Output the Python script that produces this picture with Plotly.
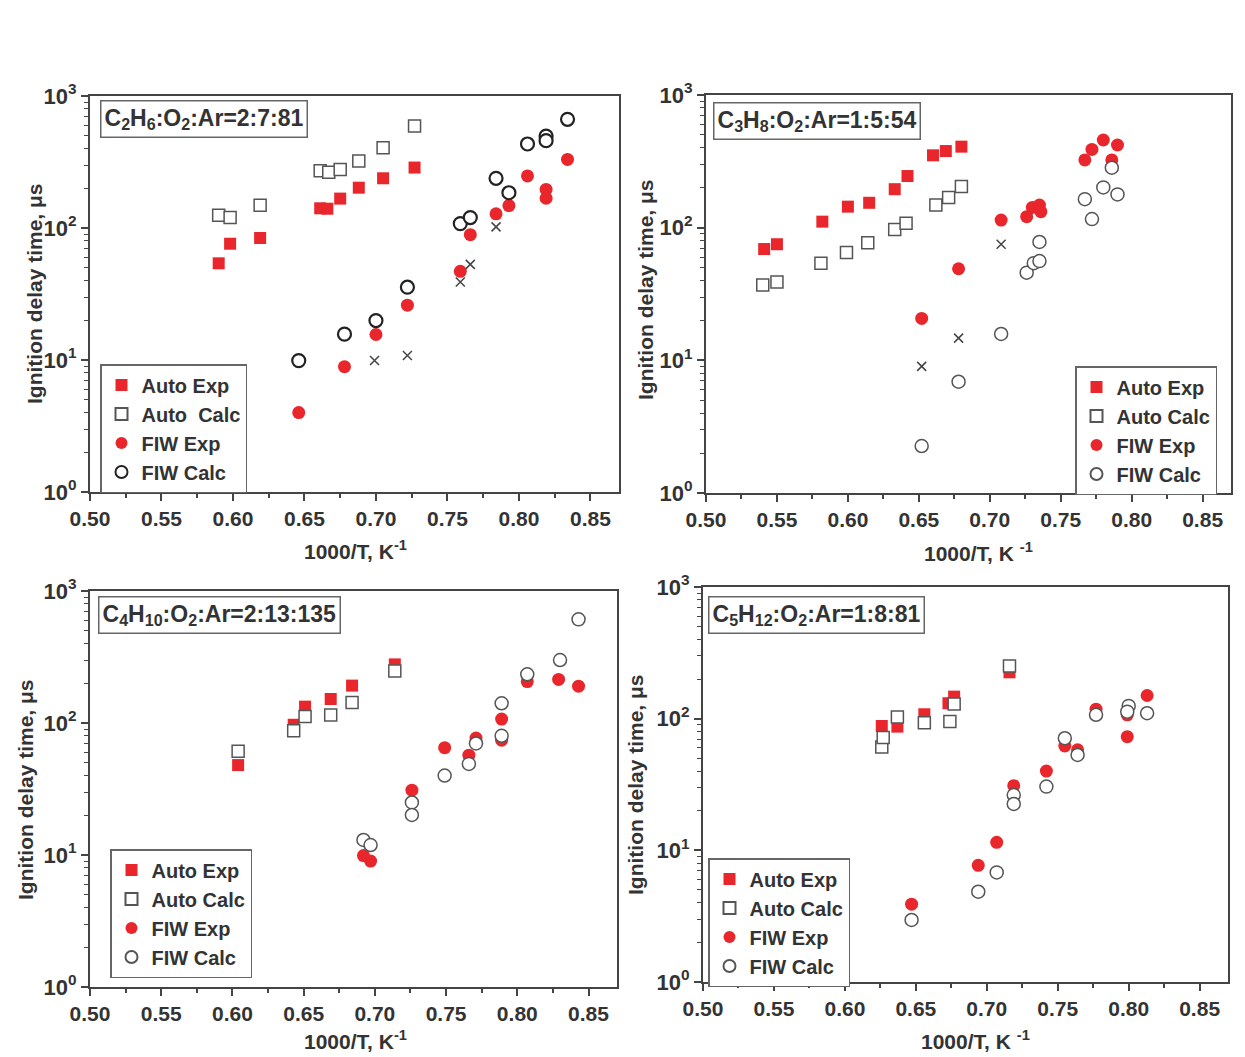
import plotly.graph_objects as go

# page body has an 8px default margin, so the figure is drawn 8px in from the window corner
PAGE_W, PAGE_H = 1245, 1057
OFF = 8
W, H = PAGE_W - OFF, PAGE_H - OFF

# ---------------- data (1000/T in K^-1, ignition delay in microseconds) ----------------
# Panel 1: C2H6:O2:Ar = 2:7:81
p1_auto_exp_x = [0.590, 0.598, 0.619, 0.661, 0.666, 0.675, 0.688, 0.705, 0.727]
p1_auto_exp_y = [54, 76, 84, 141, 140, 167, 202, 238, 287]
p1_auto_calc_x = [0.590, 0.598, 0.619, 0.661, 0.667, 0.675, 0.688, 0.705, 0.727]
p1_auto_calc_y = [125, 120, 149, 271, 264, 278, 322, 406, 593]
p1_fiw_exp_x = [0.646, 0.678, 0.700, 0.722, 0.759, 0.766, 0.784, 0.793, 0.806, 0.819, 0.819, 0.834]
p1_fiw_exp_y = [4.0, 8.9, 15.6, 26, 47, 89, 128, 148, 248, 196, 168, 331]
p1_fiw_calc_x = [0.646, 0.678, 0.700, 0.722, 0.759, 0.766, 0.784, 0.793, 0.806, 0.819, 0.819, 0.834]
p1_fiw_calc_y = [9.9, 15.7, 19.9, 35.6, 108, 120, 238, 185, 433, 497, 459, 666]
p1_cross_x = [0.699, 0.722, 0.759, 0.766, 0.784]
p1_cross_y = [9.9, 10.8, 39, 53, 102]

# Panel 2: C3H8:O2:Ar = 1:5:54
p2_auto_exp_x = [0.541, 0.550, 0.582, 0.600, 0.615, 0.633, 0.642, 0.660, 0.669, 0.680]
p2_auto_exp_y = [69, 75, 111, 144, 154, 195, 245, 351, 378, 408]
p2_auto_calc_x = [0.540, 0.550, 0.581, 0.599, 0.614, 0.633, 0.641, 0.662, 0.671, 0.680]
p2_auto_calc_y = [37, 39, 54, 65, 77, 97, 108, 148, 169, 204]
p2_fiw_exp_x = [0.652, 0.678, 0.708, 0.726, 0.730, 0.735, 0.736, 0.767, 0.772, 0.780, 0.790, 0.786]
p2_fiw_exp_y = [20.7, 49, 114, 121, 142, 148, 132, 324, 389, 458, 420, 324]
p2_fiw_calc_x = [0.652, 0.678, 0.708, 0.726, 0.731, 0.735, 0.735, 0.767, 0.772, 0.780, 0.790, 0.786]
p2_fiw_calc_y = [2.26, 6.9, 15.8, 45.8, 54, 56, 78, 164, 116, 201, 178, 283]
p2_cross_x = [0.652, 0.678, 0.708]
p2_cross_y = [9.0, 14.7, 75]

# Panel 3: C4H10:O2:Ar = 2:13:135
p3_auto_exp_x = [0.604, 0.643, 0.651, 0.669, 0.684, 0.714]
p3_auto_exp_y = [48, 97, 133, 152, 192, 278]
p3_auto_calc_x = [0.604, 0.643, 0.651, 0.669, 0.684, 0.714]
p3_auto_calc_y = [61, 87.5, 112, 115, 143, 248]
p3_fiw_exp_x = [0.692, 0.697, 0.726, 0.749, 0.766, 0.771, 0.789, 0.789, 0.807, 0.829, 0.843]
p3_fiw_exp_y = [9.9, 9.0, 31, 65, 57, 77, 74, 107, 206, 214, 190]
p3_fiw_calc_x = [0.692, 0.697, 0.726, 0.726, 0.749, 0.766, 0.771, 0.789, 0.789, 0.807, 0.830, 0.843]
p3_fiw_calc_y = [13.0, 11.9, 25, 20.1, 40, 49, 70, 80, 141, 234, 300, 610]

# Panel 4: C5H12:O2:Ar = 1:8:81
p4_auto_exp_x = [0.626, 0.637, 0.656, 0.673, 0.677, 0.716]
p4_auto_exp_y = [88, 87, 108, 131, 147, 225]
p4_auto_calc_x = [0.626, 0.627, 0.637, 0.656, 0.674, 0.677, 0.716]
p4_auto_calc_y = [61, 72, 103, 93, 95, 129, 251]
p4_fiw_exp_x = [0.647, 0.694, 0.707, 0.719, 0.742, 0.755, 0.764, 0.777, 0.799, 0.799, 0.813]
p4_fiw_exp_y = [3.9, 7.7, 11.5, 31, 40, 62, 58, 118, 107, 73, 150]
p4_fiw_calc_x = [0.647, 0.694, 0.707, 0.719, 0.719, 0.742, 0.755, 0.764, 0.777, 0.800, 0.799, 0.813]
p4_fiw_calc_y = [2.96, 4.85, 6.8, 26.3, 22.5, 30.5, 71, 53, 107, 125, 113, 110]

titles = [
    "C<sub>2</sub>H<sub>6</sub>:O<sub>2</sub>:Ar=2:7:81",
    "C<sub>3</sub>H<sub>8</sub>:O<sub>2</sub>:Ar=1:5:54",
    "C<sub>4</sub>H<sub>10</sub>:O<sub>2</sub>:Ar=2:13:135",
    "C<sub>5</sub>H<sub>12</sub>:O<sub>2</sub>:Ar=1:8:81",
]
legend_names = [
    ["Auto Exp", "Auto  Calc", "FIW Exp", "FIW Calc"],
    ["Auto Exp", "Auto Calc", "FIW Exp", "FIW Calc"],
    ["Auto Exp", "Auto Calc", "FIW Exp", "FIW Calc"],
    ["Auto Exp", "Auto Calc", "FIW Exp", "FIW Calc"],
]
x_title = ["1000/T, K<sup>-1</sup>", "1000/T, K <sup>-1</sup>", "1000/T, K<sup>-1</sup>", "1000/T, K <sup>-1</sup>"]
y_title = "Ignition delay time, μs"
x_ticks = [0.50, 0.55, 0.60, 0.65, 0.70, 0.75, 0.80, 0.85]
y_tickvals = [1, 10, 100, 1000]
y_ticktext = ["10<sup>0</sup>", "10<sup>1</sup>", "10<sup>2</sup>", "10<sup>3</sup>"]

panels = [
    (p1_auto_exp_x, p1_auto_exp_y, p1_auto_calc_x, p1_auto_calc_y, p1_fiw_exp_x, p1_fiw_exp_y,
     p1_fiw_calc_x, p1_fiw_calc_y, p1_cross_x, p1_cross_y),
    (p2_auto_exp_x, p2_auto_exp_y, p2_auto_calc_x, p2_auto_calc_y, p2_fiw_exp_x, p2_fiw_exp_y,
     p2_fiw_calc_x, p2_fiw_calc_y, p2_cross_x, p2_cross_y),
    (p3_auto_exp_x, p3_auto_exp_y, p3_auto_calc_x, p3_auto_calc_y, p3_fiw_exp_x, p3_fiw_exp_y,
     p3_fiw_calc_x, p3_fiw_calc_y, [], []),
    (p4_auto_exp_x, p4_auto_exp_y, p4_auto_calc_x, p4_auto_calc_y, p4_fiw_exp_x, p4_fiw_exp_y,
     p4_fiw_calc_x, p4_fiw_calc_y, [], []),
]

# ---------------- layout geometry (window pixels) ----------------
frames = [(90, 619, 96, 492), (706, 1231, 95, 493), (90, 617, 591, 987), (703, 1228, 587, 982)]
legend_pos = [(100, 364), (1075, 366), (110, 849), (708, 858)]
title_pos = [(100, 100), (713, 102), (98, 596), (708, 596)]
ytitle_pos = [(35, 294), (645, 290), (25, 790), (635, 785)]
xtitle_pos = [(355, 550), (978, 552), (355, 1040), (975, 1040)]

RED = "#e8262b"
GRAY = "#555555"
TXT = "#333333"
FONT = "Liberation Sans"

fig = go.Figure()
layout = dict(width=W, height=H, margin=dict(l=0, r=0, t=0, b=0, autoexpand=False),
              paper_bgcolor="white", plot_bgcolor="white", showlegend=True,
              annotations=[])

def px(x):
    return (x - OFF) / W

def py(y):
    return 1 - (y - OFF) / H

minor_y = [m * 10 ** k for k in range(0, 3) for m in range(2, 10)]

for i, (data, fr) in enumerate(zip(panels, frames)):
    n = "" if i == 0 else str(i + 1)
    xa, ya = "x" + n, "y" + n
    lg = "legend" + n
    aex, aey, acx, acy, fex, fey, fcx, fcy, cx, cy = data
    names = legend_names[i]
    calc_circle_color = "#222222" if i == 0 else GRAY
    calc_circle_w = 2.2 if i == 0 else 1.5
    fig.add_trace(go.Scatter(x=aex, y=aey, mode="markers", name=names[0], xaxis=xa, yaxis=ya, legend=lg,
                             marker=dict(symbol="square", size=12, color=RED, line=dict(width=0))))
    fig.add_trace(go.Scatter(x=acx, y=acy, mode="markers", name=names[1], xaxis=xa, yaxis=ya, legend=lg,
                             marker=dict(symbol="square", size=12, color="white", line=dict(width=1.5, color=GRAY))))
    fig.add_trace(go.Scatter(x=fex, y=fey, mode="markers", name=names[2], xaxis=xa, yaxis=ya, legend=lg,
                             marker=dict(symbol="circle", size=13, color=RED, line=dict(width=0))))
    fig.add_trace(go.Scatter(x=fcx, y=fcy, mode="markers", name=names[3], xaxis=xa, yaxis=ya, legend=lg,
                             marker=dict(symbol="circle", size=13, color="white",
                                         line=dict(width=calc_circle_w, color=calc_circle_color))))
    if cx:
        fig.add_trace(go.Scatter(x=cx, y=cy, mode="markers", showlegend=False, xaxis=xa, yaxis=ya,
                                 marker=dict(symbol="x-thin", size=9, line=dict(width=1.5, color="#444444"))))

    l, r, t, b = fr
    xkey = "xaxis" + n
    ykey = "yaxis" + n
    layout[xkey] = dict(domain=[px(l), px(r)], anchor=ya, range=[0.5, 0.87], automargin=False,
                        tickvals=x_ticks, ticktext=[f"{v:.2f}" for v in x_ticks],
                        ticks="outside", ticklen=7, tickwidth=1.8, tickcolor="#444444",
                        minor=dict(ticks="outside", ticklen=4, tickwidth=1.5, tickcolor="#444444",
                                   tickvals=[0.525, 0.575, 0.625, 0.675, 0.725, 0.775, 0.825]),
                        showline=True, linecolor="#444444", linewidth=2, mirror=True,
                        showgrid=False, zeroline=False,
                        tickfont=dict(family=FONT, size=21, color=TXT, weight="bold"))
    layout[ykey] = dict(domain=[py(b), py(t)], anchor=xa, type="log", range=[0, 3], automargin=False,
                        tickvals=y_tickvals, ticktext=y_ticktext,
                        ticks="outside", ticklen=7, tickwidth=1.8, tickcolor="#444444",
                        minor=dict(ticks="outside", ticklen=4, tickwidth=1.2, tickcolor="#444444",
                                   tickvals=minor_y),
                        showline=True, linecolor="#444444", linewidth=2, mirror=True,
                        showgrid=False, zeroline=False,
                        tickfont=dict(family=FONT, size=22, color=TXT, weight="bold"))
    lx, ly = legend_pos[i]
    layout[lg] = dict(x=px(lx), y=py(ly), xanchor="left", yanchor="top",
                      bordercolor="#666666", borderwidth=1.5, bgcolor="white",
                      font=dict(family=FONT, size=20, color=TXT, weight="bold"),
                      itemsizing="constant", tracegroupgap=0)
    tx, ty = title_pos[i]
    layout["annotations"].append(dict(text=titles[i], xref="paper", yref="paper", x=px(tx), y=py(ty),
                                      xanchor="left", yanchor="top", showarrow=False,
                                      bordercolor="#666666", borderwidth=1.5, borderpad=3, bgcolor="white",
                                      font=dict(family=FONT, size=23, color=TXT, weight="bold")))
    yx, yy = ytitle_pos[i]
    layout["annotations"].append(dict(text=y_title, xref="paper", yref="paper", x=px(yx), y=py(yy),
                                      xanchor="center", yanchor="middle", textangle=-90, showarrow=False,
                                      font=dict(family=FONT, size=21, color=TXT, weight="bold")))
    xx, xy = xtitle_pos[i]
    layout["annotations"].append(dict(text=x_title[i], xref="paper", yref="paper", x=px(xx), y=py(xy),
                                      xanchor="center", yanchor="middle", showarrow=False,
                                      font=dict(family=FONT, size=21, color=TXT, weight="bold")))

fig.update_layout(**layout)
fig.write_html("out.html")
